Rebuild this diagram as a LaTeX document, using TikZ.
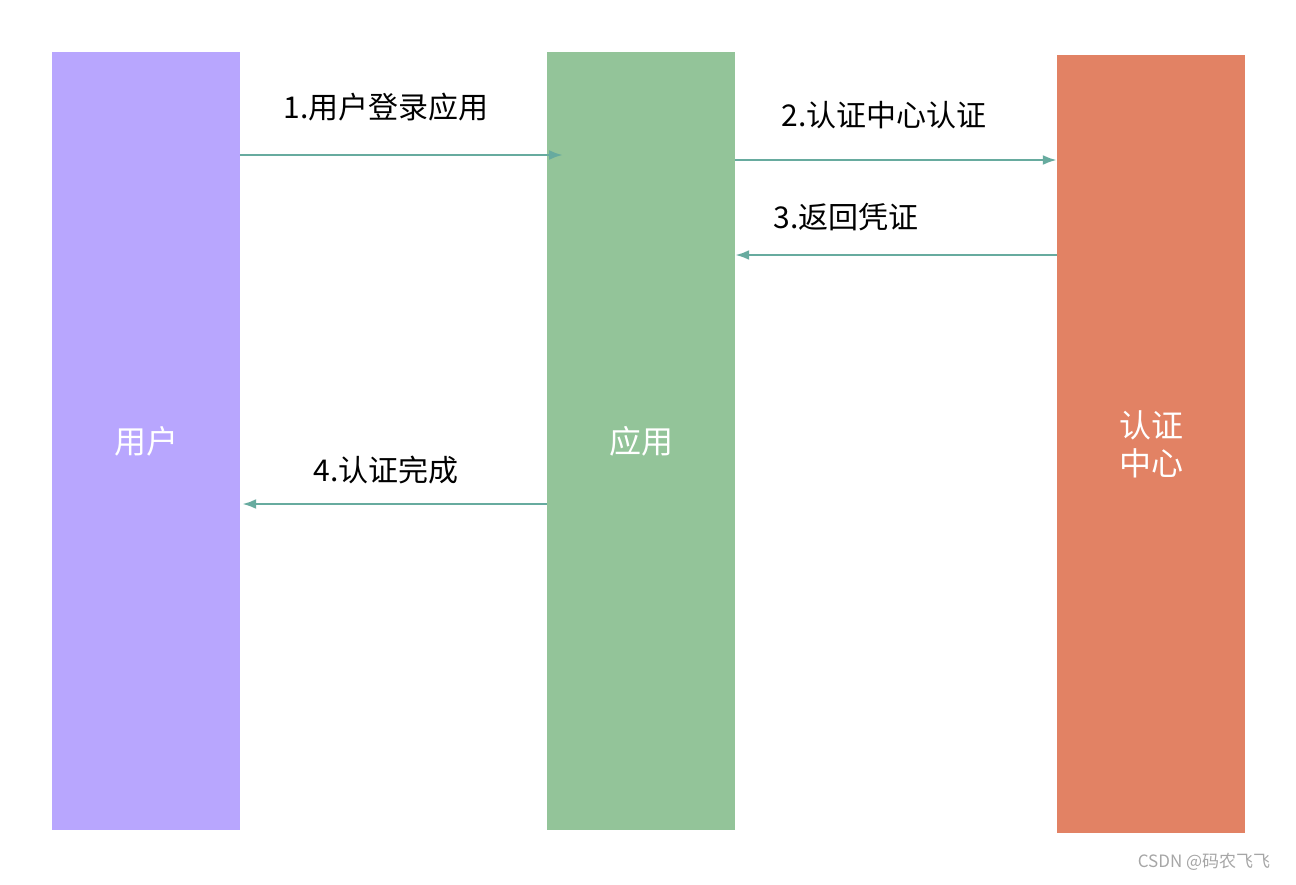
\documentclass[tikz,border=0pt]{standalone}
\usepackage{fontspec}
\setmainfont{Noto Sans CJK SC}
\definecolor{cu}{HTML}{B8A6FE}
\definecolor{ca}{HTML}{93C499}
\definecolor{cc}{HTML}{E28264}
\definecolor{ar}{HTML}{67AB9F}
\begin{document}
\begin{tikzpicture}[x=1pt,y=-1pt,
  bar/.style={draw=none,minimum width=188pt,minimum height=778pt,inner sep=0pt,text=white,font=\fontsize{32}{38}\selectfont,align=center},
  conn/.style={draw=ar,line width=2.5pt,-{Latex[length=14pt,width=10pt]}},
  lbl/.style={font=\fontsize{30}{36}\selectfont,text=black}]
\usetikzlibrary{arrows.meta}
\useasboundingbox (0,0) rectangle (1296,884);
\node[bar,fill=cu] (u) at (146,441) {用户};
\node[bar,fill=ca] (a) at (641,441) {应用};
\node[bar,fill=cc] (c) at (1151,444) {认证\\中心};
\coordinate (a1) at (563,155);
\draw[conn] (u.east|-a1) -- (a1);
\draw[conn] (a.east|-0,160) -- (c.west|-0,160);
\draw[conn] (c.west|-0,255) -- (a.east|-0,255);
\draw[conn] (a.west|-0,504) -- ([xshift=2pt]u.east|-0,504);
\node[lbl] (l1) at (386,107) {1.用户登录应用};
\node[lbl] (l2) at (884,115) {2.认证中心认证};
\node[lbl] (l3) at (846,217) {3.返回凭证};
\node[lbl] (l4) at (386,470) {4.认证完成};
\node[text=gray!70,font=\fontsize{17}{20}\selectfont] (w) at (1204,862) {CSDN @码农飞飞};
\end{tikzpicture}
\end{document}
